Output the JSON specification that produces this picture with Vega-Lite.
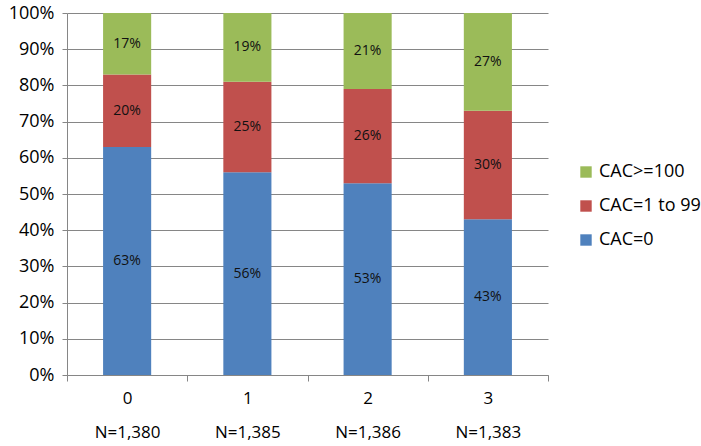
{
  "$schema": "https://vega.github.io/schema/vega-lite/v6.json",
  "autosize": "none",
  "padding": {"left": 67, "top": 13, "right": 153, "bottom": 71},
  "width": 481,
  "height": 362,
  "background": "white",
  "config": {
    "font": "Open Sans",
    "view": {"stroke": null}
  },
  "data": {
    "values": [
      {"group": "0|N=1,380", "cac": "CAC=0", "ord": 1, "v": 0.63},
      {"group": "0|N=1,380", "cac": "CAC=1 to 99", "ord": 2, "v": 0.20},
      {"group": "0|N=1,380", "cac": "CAC>=100", "ord": 3, "v": 0.17},
      {"group": "1|N=1,385", "cac": "CAC=0", "ord": 1, "v": 0.56},
      {"group": "1|N=1,385", "cac": "CAC=1 to 99", "ord": 2, "v": 0.25},
      {"group": "1|N=1,385", "cac": "CAC>=100", "ord": 3, "v": 0.19},
      {"group": "2|N=1,386", "cac": "CAC=0", "ord": 1, "v": 0.53},
      {"group": "2|N=1,386", "cac": "CAC=1 to 99", "ord": 2, "v": 0.26},
      {"group": "2|N=1,386", "cac": "CAC>=100", "ord": 3, "v": 0.21},
      {"group": "3|N=1,383", "cac": "CAC=0", "ord": 1, "v": 0.43},
      {"group": "3|N=1,383", "cac": "CAC=1 to 99", "ord": 2, "v": 0.30},
      {"group": "3|N=1,383", "cac": "CAC>=100", "ord": 3, "v": 0.27}
    ]
  },
  "encoding": {
    "x": {
      "field": "group",
      "type": "nominal",
      "sort": null,
      "scale": {"paddingInner": 0, "paddingOuter": 0},
      "axis": {
        "title": null,
        "labelAngle": 0,
        "labelExpr": "split(datum.label, '|')",
        "labelFont": "Open Sans",
        "labelFontSize": 17,
        "labelColor": "#000000",
        "labelLineHeight": 34,
        "labelPadding": 9,
        "tickBand": "extent",
        "tickSize": 6,
        "tickColor": "#868686",
        "domainColor": "#868686",
        "grid": false
      }
    },
    "y": {
      "field": "v",
      "type": "quantitative",
      "stack": "zero",
      "scale": {"domain": [0, 1], "nice": false},
      "axis": {
        "title": null,
        "values": [0, 0.1, 0.2, 0.3, 0.4, 0.5, 0.6, 0.7, 0.8, 0.9, 1],
        "format": ".0%",
        "labelFont": "Open Sans",
        "labelFontSize": 18,
        "labelColor": "#000000",
        "labelPadding": 8,
        "tickSize": 5,
        "tickColor": "#868686",
        "domainColor": "#868686",
        "gridColor": "#868686",
        "gridOpacity": 1
      }
    },
    "order": {"field": "ord", "type": "quantitative"}
  },
  "layer": [
    {
      "mark": {"type": "bar", "width": {"band": 0.4}},
      "encoding": {
        "color": {
          "field": "cac",
          "type": "nominal",
          "scale": {
            "domain": ["CAC>=100", "CAC=1 to 99", "CAC=0"],
            "range": ["#9BBB59", "#C0504D", "#4F81BD"]
          },
          "legend": {
            "title": null,
            "orient": "none",
            "legendX": 510,
            "legendY": 150,
            "symbolType": "square",
            "symbolSize": 130,
            "symbolStrokeWidth": 0,
            "symbolOpacity": 1,
            "labelFont": "Open Sans",
            "labelFontSize": 18,
            "labelColor": "#000000",
            "rowPadding": 16,
            "labelOffset": 4
          }
        }
      }
    },
    {
      "mark": {"type": "text", "font": "Open Sans", "fontSize": 14, "color": "#111111"},
      "encoding": {
        "y": {"field": "v", "type": "quantitative", "stack": "zero", "bandPosition": 0.5},
        "text": {"field": "v", "type": "quantitative", "format": ".0%"}
      }
    }
  ]
}
